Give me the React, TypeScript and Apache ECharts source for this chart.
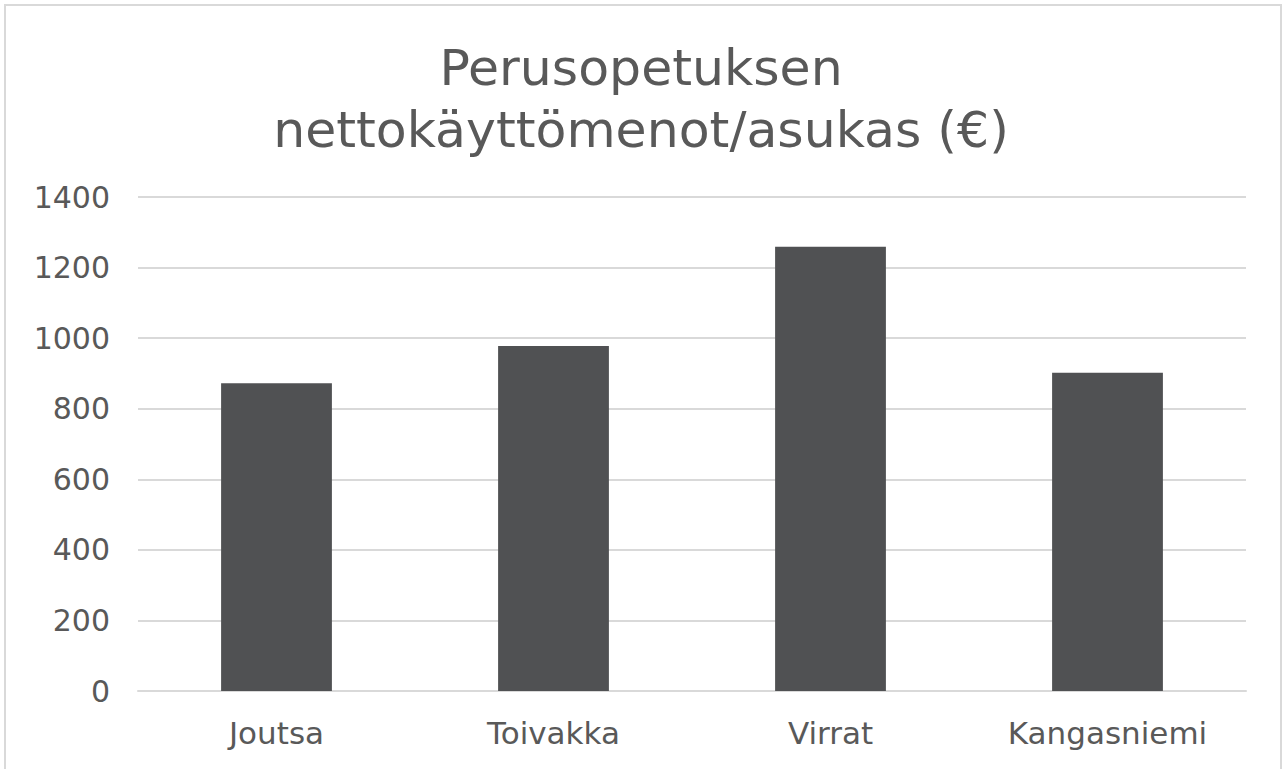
import React, { useEffect, useRef } from "react";
import * as echarts from "echarts";

const categories = ["Joutsa", "Toivakka", "Virrat", "Kangasniemi"];
const values = [872, 978, 1259, 902];
const titleText = "Perusopetuksen\nnettokäyttömenot/asukas (€)";

export default function App() {
  const ref = useRef<HTMLDivElement>(null);
  useEffect(() => {
    if (!ref.current) return;
    const chart = echarts.init(ref.current, undefined, { renderer: "svg" });
    const font = "DejaVu Sans";
    chart.setOption({
      animation: false,
      backgroundColor: "#ffffff",
      graphic: [
        {
          type: "rect",
          shape: { x: 5, y: 5, width: 1276, height: 800 },
          style: { fill: "none", stroke: "#d9d9d9", lineWidth: 2 },
          silent: true,
        },
      ],
      title: {
        text: titleText,
        left: "center",
        top: 31,
        textStyle: {
          fontFamily: font,
          fontSize: 50.5,
          fontWeight: "normal",
          color: "#595959",
          lineHeight: 62,
        },
      },
      grid: { left: 138, right: 36, top: 197, bottom: 78, containLabel: false },
      xAxis: {
        type: "category",
        data: categories,
        axisLine: { show: true, lineStyle: { color: "#d9d9d9", width: 2 } },
        axisTick: { show: false },
        axisLabel: {
          fontFamily: font,
          fontSize: 31,
          color: "#595959",
          margin: 26,
        },
      },
      yAxis: {
        type: "value",
        min: 0,
        max: 1400,
        interval: 200,
        axisLine: { show: false },
        axisTick: { show: false },
        splitLine: { lineStyle: { color: "#d9d9d9", width: 2 } },
        axisLabel: {
          fontFamily: font,
          fontSize: 30,
          color: "#595959",
          margin: 28,
          formatter: (v: number) => String(v),
        },
      },
      series: [
        {
          type: "bar",
          data: values,
          barWidth: "40%",
          itemStyle: { color: "#505153" },
        },
      ],
    });
    return () => chart.dispose();
  }, []);
  return (
    <div
      ref={ref}
      style={{ position: "fixed", left: 0, top: 0, width: 1282, height: 769 }}
    />
  );
}
